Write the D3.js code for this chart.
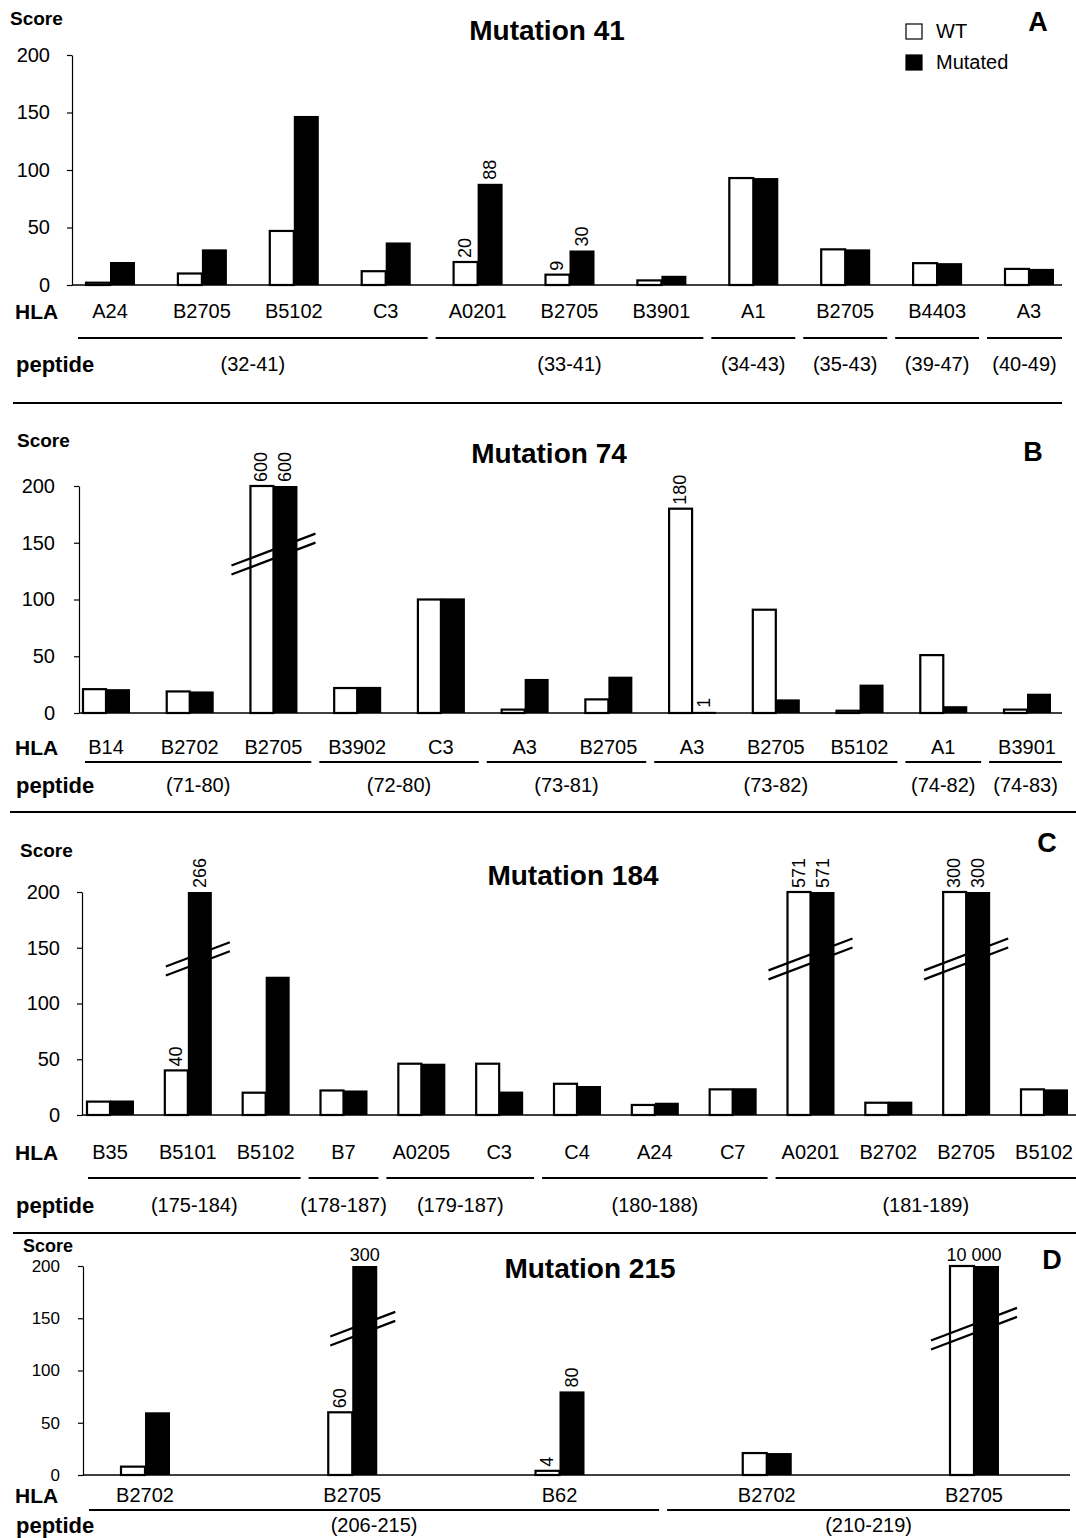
<!DOCTYPE html>
<html>
<head>
<meta charset="utf-8">
<script src="https://cdn.jsdelivr.net/npm/d3@7"></script>
<style>
  body { margin: 0; background: #fff; }
  svg { display: block; font-family: 'Liberation Sans', Arial, sans-serif; }
</style>
</head>
<body>
<svg width="1076" height="1538"></svg>
<script>
// score axis
const scoreTicks = [0, 50, 100, 150, 200];
const seriesNames = ['WT', 'Mutated'];

// Mutation 41
const hlaA = ['A24', 'B2705', 'B5102', 'C3', 'A0201', 'B2705', 'B3901', 'A1', 'B2705', 'B4403', 'A3'];
const wtA = [2, 10, 47, 12, 20, 9, 4, 93, 31, 19, 14];
const mutA = [20, 31, 147, 37, 88, 30, 8, 93, 31, 19, 14];
const wtLabelA = ['', '', '', '', '20', '9', '', '', '', '', ''];
const mutLabelA = ['', '', '', '', '88', '30', '', '', '', '', ''];
const peptidesA = ['(32-41)', '(33-41)', '(34-43)', '(35-43)', '(39-47)', '(40-49)'];
const groupSizeA = [4, 3, 1, 1, 1, 1];

// Mutation 74
const hlaB = ['B14', 'B2702', 'B2705', 'B3902', 'C3', 'A3', 'B2705', 'A3', 'B2705', 'B5102', 'A1', 'B3901'];
const wtB = [21, 19, 600, 22, 100, 3, 12, 180, 91, 2, 51, 3];
const mutB = [21, 19, 600, 23, 101, 30, 32, 1, 12, 25, 6, 17];
const wtLabelB = ['', '', '600', '', '', '', '', '180', '', '', '', ''];
const mutLabelB = ['', '', '600', '', '', '', '', '1', '', '', '', ''];
const peptidesB = ['(71-80)', '(72-80)', '(73-81)', '(73-82)', '(74-82)', '(74-83)'];
const groupSizeB = [3, 2, 2, 3, 1, 1];

// Mutation 184
const hlaC = ['B35', 'B5101', 'B5102', 'B7', 'A0205', 'C3', 'C4', 'A24', 'C7', 'A0201', 'B2702', 'B2705', 'B5102'];
const wtC = [12, 40, 20, 22, 46, 46, 28, 9, 23, 571, 11, 300, 23];
const mutC = [13, 266, 124, 22, 46, 21, 26, 11, 24, 571, 12, 300, 23];
const wtLabelC = ['', '40', '', '', '', '', '', '', '', '571', '', '300', ''];
const mutLabelC = ['', '266', '', '', '', '', '', '', '', '571', '', '300', ''];
const peptidesC = ['(175-184)', '(178-187)', '(179-187)', '(180-188)', '(181-189)'];
const groupSizeC = [3, 1, 2, 3, 4];

// Mutation 215
const hlaD = ['B2702', 'B2705', 'B62', 'B2702', 'B2705'];
const wtD = [8, 60, 4, 21, 10000];
const mutD = [60, 300, 80, 21, 10000];
const wtLabelD = ['', '60', '4', '', '10 000'];
const mutLabelD = ['', '300', '80', '', '10 000'];
const peptidesD = ['(206-215)', '(210-219)'];
const groupSizeD = [3, 2];

const svg = d3.select('svg');

function drawPanel(p, L) {
    const g = svg.append('g');
    const y = d3.scaleLinear().domain([0, 200]).range([L.y0, L.y200]).clamp(true);
    const x = d3.scalePoint().domain(d3.range(p.hla.length)).range([L.first, L.last]);
    const bw = L.bw;

    // y轴
    g.append('g')
        .attr('transform', `translate(${L.axisX},0)`)
        .call(d3.axisLeft(y).tickValues(scoreTicks).tickSize(5).tickSizeOuter(0).tickPadding(L.pad))
        .call(a => a.selectAll('text').attr('font-size', L.tickFont).attr('fill', '#000')
            .attr('font-family', "'Liberation Sans', Arial, sans-serif"))
        .call(a => a.selectAll('line,path').attr('stroke', '#000').attr('stroke-width', 1.2));

    g.append('text').attr('x', L.score[0]).attr('y', L.score[1])
        .attr('font-size', L.scoreFont || 19).attr('font-weight', 'bold').attr('dominant-baseline', 'central')
        .text('Score');

    // baseline
    g.append('line')
        .attr('x1', L.axisX).attr('x2', L.xEnd)
        .attr('y1', y(0)).attr('y2', y(0))
        .attr('stroke', '#000').attr('stroke-width', 1.5);

    // 条形图
    g.selectAll('.wt').data(p.wt).enter().append('rect')
        .attr('x', (d, i) => x(i) - bw + 1)
        .attr('y', d => y(d))
        .attr('width', bw - 1)
        .attr('height', d => y(0) - y(d))
        .attr('fill', '#fff').attr('stroke', '#000').attr('stroke-width', 2.2);

    g.selectAll('.mut').data(p.mut).enter().append('rect')
        .attr('x', (d, i) => x(i))
        .attr('y', d => y(d))
        .attr('width', bw)
        .attr('height', d => Math.max(2, y(0) - y(d)))
        .attr('fill', '#000');

    // axis break marks
    p.hla.forEach((h, i) => {
        const wtBig = p.wt[i] > 200, mutBig = p.mut[i] > 200;
        if (!wtBig && !mutBig) return;
        const x1 = wtBig ? x(i) - bw - 18 : x(i) - 22;
        const x2 = x(i) + bw + 18;
        const cx = (x1 + x2) / 2, cy = y(140);
        const slope = -0.38;
        [-4.5, 4.5].forEach(off => {
            g.append('line')
                .attr('x1', x1).attr('y1', cy + off + slope * (x1 - cx))
                .attr('x2', x2).attr('y2', cy + off + slope * (x2 - cx))
                .attr('stroke', '#000').attr('stroke-width', 2.2);
        });
    });

    // value labels
    p.hla.forEach((h, i) => {
        const wl = p.wtLabel[i], ml = p.mutLabel[i];
        if (L.flatBig && wl && wl === ml && p.wt[i] > 200) {
            g.append('text').attr('x', x(i)).attr('y', y(p.wt[i]) - 5)
                .attr('text-anchor', 'middle').attr('font-size', 18).text(wl);
            return;
        }
        [[wl, p.wt[i], x(i) - bw / 2], [ml, p.mut[i], x(i) + bw / 2]].forEach(([lab, v, cx]) => {
            if (!lab) return;
            if (L.flatBig && v > 200) {
                g.append('text').attr('x', cx).attr('y', y(v) - 5)
                    .attr('text-anchor', 'middle').attr('font-size', 18).text(lab);
            } else {
                g.append('text')
                    .attr('transform', `translate(${cx},${y(v) - 4}) rotate(-90)`)
                    .attr('dominant-baseline', 'central')
                    .attr('font-size', 18).text(lab);
            }
        });
    });

    // HLA labels
    g.append('text').attr('x', 15).attr('y', L.hlaY)
        .attr('font-size', 21).attr('font-weight', 'bold').attr('dominant-baseline', 'central')
        .text('HLA');
    g.selectAll('.hla').data(p.hla).enter().append('text')
        .attr('x', (d, i) => x(i)).attr('y', L.hlaY)
        .attr('text-anchor', 'middle').attr('dominant-baseline', 'central')
        .attr('font-size', 20).text(d => d);

    // peptide groups
    g.append('text').attr('x', 16).attr('y', L.pepY)
        .attr('font-size', 22).attr('font-weight', 'bold').attr('dominant-baseline', 'central')
        .text('peptide');
    const step = x.step();
    let start = 0;
    p.peptides.forEach((pep, k) => {
        const end = start + p.groupSize[k] - 1;
        const gx1 = Math.max(L.axisX + 6, x(start) - step / 2 + 4);
        const gx2 = Math.min(L.xEnd, x(end) + step / 2 - 4);
        g.append('line').attr('x1', gx1).attr('x2', gx2)
            .attr('y1', L.lineY).attr('y2', L.lineY)
            .attr('stroke', '#000').attr('stroke-width', 2);
        g.append('text').attr('x', (gx1 + gx2) / 2).attr('y', L.pepY)
            .attr('text-anchor', 'middle').attr('dominant-baseline', 'central')
            .attr('font-size', 20).text(pep);
        start = end + 1;
    });

    // title and panel letter
    g.append('text').attr('x', L.title[0]).attr('y', L.title[1])
        .attr('text-anchor', 'middle').attr('dominant-baseline', 'central')
        .attr('font-size', 28).attr('font-weight', 'bold').text(p.title);
    g.append('text').attr('x', L.letter[0]).attr('y', L.letter[1])
        .attr('text-anchor', 'middle').attr('dominant-baseline', 'central')
        .attr('font-size', 27).attr('font-weight', 'bold').text(p.letter);
}

drawPanel(
    { title: 'Mutation 41', letter: 'A', hla: hlaA, wt: wtA, mut: mutA, wtLabel: wtLabelA, mutLabel: mutLabelA, peptides: peptidesA, groupSize: groupSizeA },
    { axisX: 72, y200: 55, y0: 285, first: 110, last: 1029, bw: 25, xEnd: 1062, pad: 17, tickFont: 20,
      hlaY: 311, lineY: 338, pepY: 364, title: [547, 30], letter: [1038, 22], score: [10, 18] }
);
drawPanel(
    { title: 'Mutation 74', letter: 'B', hla: hlaB, wt: wtB, mut: mutB, wtLabel: wtLabelB, mutLabel: mutLabelB, peptides: peptidesB, groupSize: groupSizeB },
    { axisX: 79, y200: 486, y0: 713, first: 106, last: 1027, bw: 24, xEnd: 1062, pad: 19, tickFont: 20,
      hlaY: 747, lineY: 762, pepY: 785, title: [549, 453], letter: [1033, 452], score: [17, 440] }
);
drawPanel(
    { title: 'Mutation 184', letter: 'C', hla: hlaC, wt: wtC, mut: mutC, wtLabel: wtLabelC, mutLabel: mutLabelC, peptides: peptidesC, groupSize: groupSizeC },
    { axisX: 82, y200: 892, y0: 1115, first: 110, last: 1044, bw: 24, xEnd: 1076, pad: 17, tickFont: 20,
      hlaY: 1152, lineY: 1178, pepY: 1205, title: [573, 875], letter: [1047, 843], score: [20, 850] }
);
drawPanel(
    { title: 'Mutation 215', letter: 'D', hla: hlaD, wt: wtD, mut: mutD, wtLabel: wtLabelD, mutLabel: mutLabelD, peptides: peptidesD, groupSize: groupSizeD },
    { axisX: 83, y200: 1266, y0: 1475, first: 145, last: 974, bw: 25, xEnd: 1070, pad: 18, tickFont: 17, flatBig: true,
      hlaY: 1495, lineY: 1510, pepY: 1525, title: [590, 1268], letter: [1052, 1260], score: [23, 1246], scoreFont: 18 }
);

// legend (panel A)
const legend = svg.append('g').attr('transform', 'translate(906,0)');
seriesNames.forEach((name, i) => {
    legend.append('rect').attr('x', 0).attr('y', 24 + i * 31).attr('width', 16).attr('height', 15)
        .attr('fill', i === 0 ? '#fff' : '#000').attr('stroke', '#000').attr('stroke-width', 1.2);
    legend.append('text').attr('x', 30).attr('y', 31 + i * 31)
        .attr('dominant-baseline', 'central').attr('font-size', 20).text(name);
});

// panel separators
[[13, 1062, 403], [10, 1076, 812], [13, 1076, 1233]].forEach(([x1, x2, yy]) => {
    svg.append('line').attr('x1', x1).attr('x2', x2).attr('y1', yy).attr('y2', yy)
        .attr('stroke', '#000').attr('stroke-width', 1.8);
});
</script>
</body>
</html>
